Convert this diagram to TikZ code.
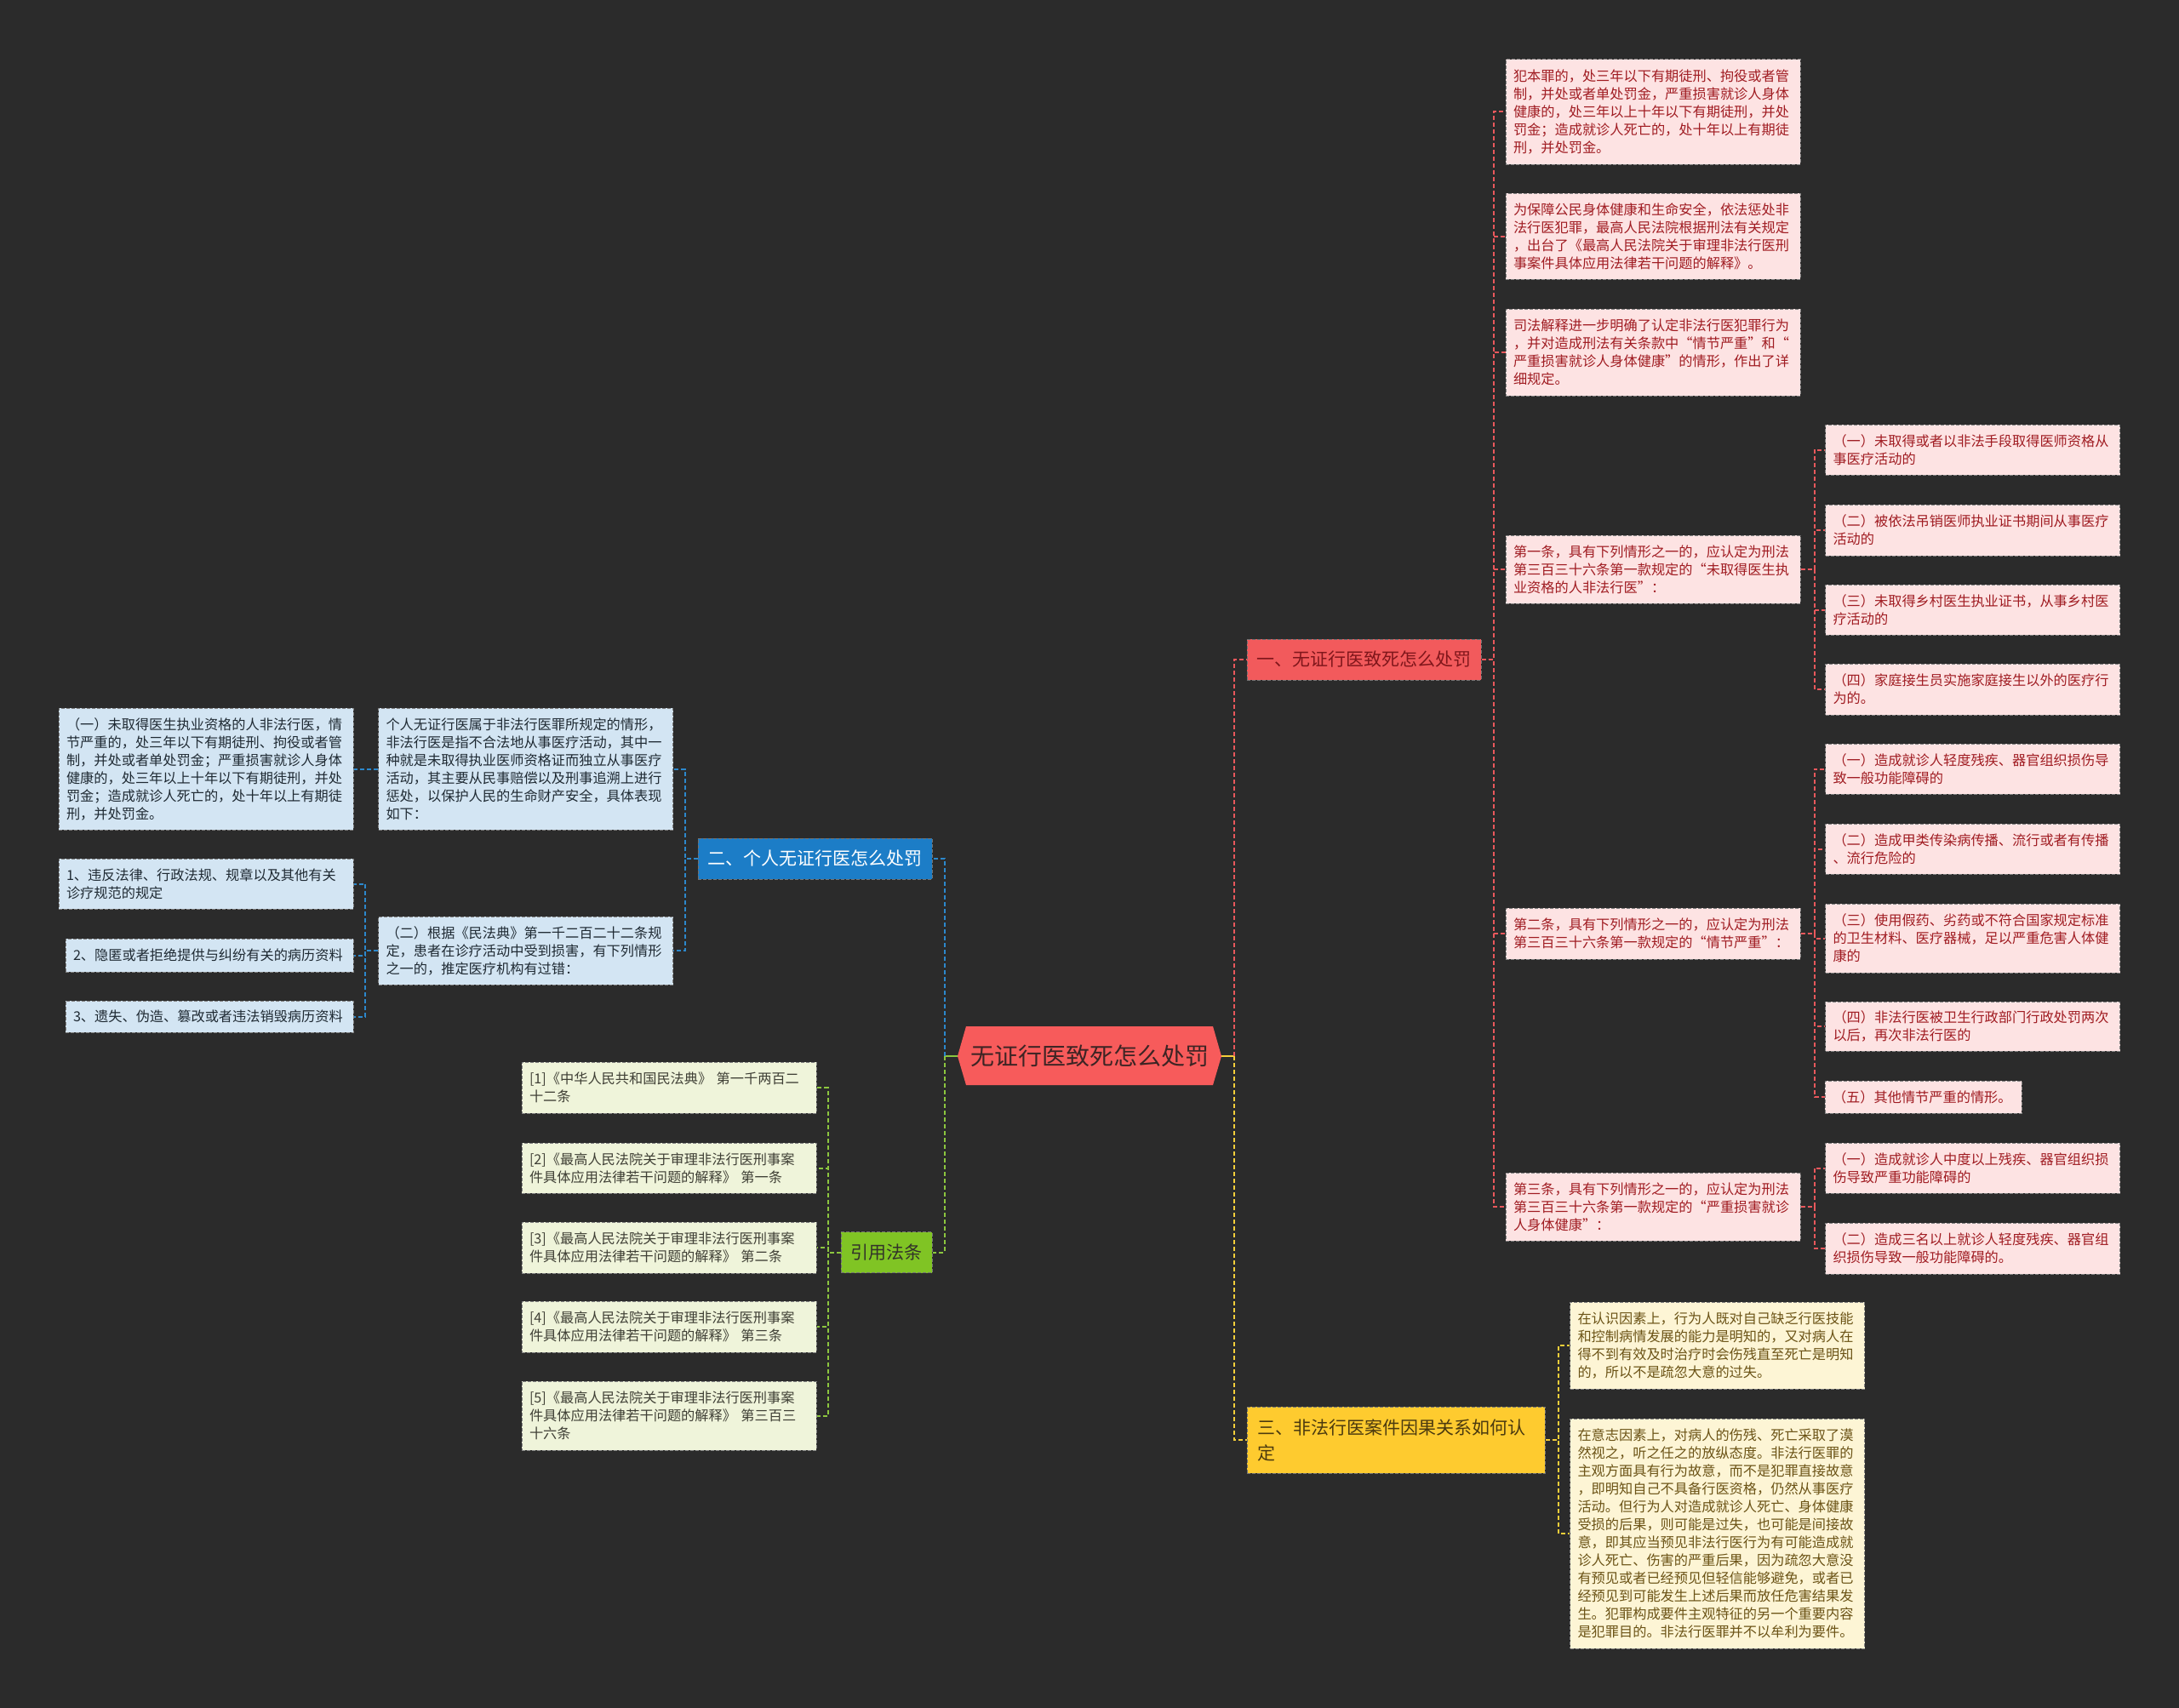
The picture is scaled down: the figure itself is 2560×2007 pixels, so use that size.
\documentclass[tikz,border=0pt]{standalone}
\usepackage{fontspec}
\setmainfont{Noto Sans CJK SC}
\definecolor{bgcol}{HTML}{2B2B2B}
\definecolor{rootred}{HTML}{F75B5B}
\definecolor{roottext}{HTML}{3D2424}
\definecolor{redmain}{HTML}{F25A5C}
\definecolor{redtext}{HTML}{A01C22}
\definecolor{redfill}{HTML}{FDE3E3}
\definecolor{redline}{HTML}{E9585C}
\definecolor{bluemain}{HTML}{1C7DC7}
\definecolor{bluefill}{HTML}{D3E5F3}
\definecolor{bluetext}{HTML}{1F2A33}
\definecolor{blueline}{HTML}{2C88CC}
\definecolor{greenmain}{HTML}{80C424}
\definecolor{greenfill}{HTML}{EFF4DA}
\definecolor{greentext}{HTML}{3F3F35}
\definecolor{greenline}{HTML}{8CC63F}
\definecolor{yellowmain}{HTML}{FECB2F}
\definecolor{yellowfill}{HTML}{FDF5D5}
\definecolor{yellowtext}{HTML}{6B5316}
\definecolor{yellowline}{HTML}{F5CF3A}

\begin{document}
\begin{tikzpicture}[x=1pt,y=-1pt,
	leaf/.style={draw=black!50, dash pattern=on 4pt off 2pt, line width=1pt, inner xsep=9pt, inner ysep=0pt,
		text width=328pt, align=left, font=\fontsize{16.2}{21}\selectfont},
	redleaf/.style={leaf, fill=redfill, text=redtext},
	blueleaf/.style={leaf, fill=bluefill, text=bluetext},
	greenleaf/.style={leaf, fill=greenfill, text=greentext},
	yellowleaf/.style={leaf, fill=yellowfill, text=yellowtext},
	branch/.style={draw=black!55, dash pattern=on 4pt off 2pt, line width=1pt, inner xsep=11.5pt, inner ysep=0pt,
		minimum height=48pt, align=center, font=\fontsize{21}{30}\selectfont},
	rootnode/.style={minimum width=310pt, minimum height=69pt, inner sep=0pt, text=roottext, font=\fontsize{28}{34}\selectfont},
	link/.style={line width=2pt, dash pattern=on 5pt off 3pt},
	redlink/.style={link, draw=redline},
	bluelink/.style={link, draw=blueline},
	greenlink/.style={link, draw=greenline},
	yellowlink/.style={link, draw=yellowline}]

	\fill[bgcol] (0,0) rectangle (2560,2007);
	\useasboundingbox (0,0) rectangle (2560,2007);

	\fill[rootred] (1125,1241) -- (1135,1206) -- (1425,1206) -- (1435,1241) -- (1425,1275) -- (1135,1275) -- cycle;
	\node[rootnode] (root) at (1280,1241) {无证行医致死怎么处罚};

	\node[branch, fill=redmain, text=redtext!80!black, minimum width=275pt] (n1) at (1602.5,775) {一、无证行医致死怎么处罚};
	\node[branch, fill=bluemain, text=white, minimum width=275pt] (n2) at (957.5,1009) {二、个人无证行医怎么处罚};
	\node[branch, fill=yellowmain, text=yellowtext!70!black, text width=326pt, inner xsep=12pt, minimum height=78pt, align=left] (n3) at (1640,1692) {三、非法行医案件因果关系如何认\\定};
	\node[branch, fill=greenmain, text=greentext!80!black, minimum width=107pt] (n4) at (1041.5,1471.5) {引用法条};

	\node[redleaf, minimum height=123pt] (r1) at (1942,131.5) {犯本罪的，处三年以下有期徒刑、拘役或者管\\制，并处或者单处罚金，严重损害就诊人身体\\健康的，处三年以上十年以下有期徒刑，并处\\罚金；造成就诊人死亡的，处十年以上有期徒\\刑，并处罚金。};
	\node[redleaf, minimum height=101pt] (r2) at (1942,277.5) {为保障公民身体健康和生命安全，依法惩处非\\法行医犯罪，最高人民法院根据刑法有关规定\\，出台了《最高人民法院关于审理非法行医刑\\事案件具体应用法律若干问题的解释》。};
	\node[redleaf, minimum height=102pt] (r3) at (1942,414) {司法解释进一步明确了认定非法行医犯罪行为\\，并对造成刑法有关条款中“情节严重”和“\\严重损害就诊人身体健康”的情形，作出了详\\细规定。};
	\node[redleaf, minimum height=80pt] (r4) at (1942,669) {第一条，具有下列情形之一的，应认定为刑法\\第三百三十六条第一款规定的“未取得医生执\\业资格的人非法行医”：};
	\node[redleaf, minimum height=60pt] (r5) at (1942,1097) {第二条，具有下列情形之一的，应认定为刑法\\第三百三十六条第一款规定的“情节严重”：};
	\node[redleaf, minimum height=80pt] (r6) at (1942,1418) {第三条，具有下列情形之一的，应认定为刑法\\第三百三十六条第一款规定的“严重损害就诊\\人身体健康”：};

	\node[redleaf, minimum height=59pt] (a1) at (2317.5,528.5) {（一）未取得或者以非法手段取得医师资格从\\事医疗活动的};
	\node[redleaf, minimum height=60pt] (a2) at (2317.5,623) {（二）被依法吊销医师执业证书期间从事医疗\\活动的};
	\node[redleaf, minimum height=59pt] (a3) at (2317.5,716.5) {（三）未取得乡村医生执业证书，从事乡村医\\疗活动的};
	\node[redleaf, minimum height=60pt] (a4) at (2317.5,810) {（四）家庭接生员实施家庭接生以外的医疗行\\为的。};

	\node[redleaf, minimum height=59pt] (b1) at (2317.5,903.5) {（一）造成就诊人轻度残疾、器官组织损伤导\\致一般功能障碍的};
	\node[redleaf, minimum height=59pt] (b2) at (2317.5,997.5) {（二）造成甲类传染病传播、流行或者有传播\\、流行危险的};
	\node[redleaf, minimum height=81pt] (b3) at (2317.5,1102.5) {（三）使用假药、劣药或不符合国家规定标准\\的卫生材料、医疗器械，足以严重危害人体健\\康的};
	\node[redleaf, minimum height=58pt] (b4) at (2317.5,1206) {（四）非法行医被卫生行政部门行政处罚两次\\以后，再次非法行医的};
	\node[redleaf, minimum height=38pt, text width=213pt] (b5) at (2259.5,1289) {（五）其他情节严重的情形。};

	\node[redleaf, minimum height=59pt] (c1) at (2317.5,1372.5) {（一）造成就诊人中度以上残疾、器官组织损\\伤导致严重功能障碍的};
	\node[redleaf, minimum height=60pt] (c2) at (2317.5,1467) {（二）造成三名以上就诊人轻度残疾、器官组\\织损伤导致一般功能障碍的。};

	\node[yellowleaf, minimum height=102pt] (y1) at (2017.5,1581) {在认识因素上，行为人既对自己缺乏行医技能\\和控制病情发展的能力是明知的，又对病人在\\得不到有效及时治疗时会伤残直至死亡是明知\\的，所以不是疏忽大意的过失。};
	\node[yellowleaf, minimum height=270pt] (y2) at (2017.5,1802) {在意志因素上，对病人的伤残、死亡采取了漠\\然视之，听之任之的放纵态度。非法行医罪的\\主观方面具有行为故意，而不是犯罪直接故意\\，即明知自己不具备行医资格，仍然从事医疗\\活动。但行为人对造成就诊人死亡、身体健康\\受损的后果，则可能是过失，也可能是间接故\\意，即其应当预见非法行医行为有可能造成就\\诊人死亡、伤害的严重后果，因为疏忽大意没\\有预见或者已经预见但轻信能够避免，或者已\\经预见到可能发生上述后果而放任危害结果发\\生。犯罪构成要件主观特征的另一个重要内容\\是犯罪目的。非法行医罪并不以牟利为要件。};

	\node[blueleaf, minimum height=143pt] (p1) at (617.5,903.5) {个人无证行医属于非法行医罪所规定的情形，\\非法行医是指不合法地从事医疗活动，其中一\\种就是未取得执业医师资格证而独立从事医疗\\活动，其主要从民事赔偿以及刑事追溯上进行\\惩处，以保护人民的生命财产安全，具体表现\\如下：};
	\node[blueleaf, minimum height=143pt] (p0) at (242,903.5) {（一）未取得医生执业资格的人非法行医，情\\节严重的，处三年以下有期徒刑、拘役或者管\\制，并处或者单处罚金；严重损害就诊人身体\\健康的，处三年以上十年以下有期徒刑，并处\\罚金；造成就诊人死亡的，处十年以上有期徒\\刑，并处罚金。};
	\node[blueleaf, minimum height=80pt] (p2) at (617.5,1117) {（二）根据《民法典》第一千二百二十二条规\\定，患者在诊疗活动中受到损害，有下列情形\\之一的，推定医疗机构有过错：};
	\node[blueleaf, minimum height=59pt] (q1) at (242,1038.5) {1、违反法律、行政法规、规章以及其他有关\\诊疗规范的规定};
	\node[blueleaf, minimum height=39pt, text width=320pt] (q2) at (246,1122.5) {2、隐匿或者拒绝提供与纠纷有关的病历资料};
	\node[blueleaf, minimum height=37pt, text width=320pt] (q3) at (246,1194.5) {3、遗失、伪造、篡改或者违法销毁病历资料};

	\node[greenleaf, minimum height=60pt] (g1) at (786,1278) {[1]《中华人民共和国民法典》 第一千两百二\\十二条};
	\node[greenleaf, minimum height=59pt] (g2) at (786,1372.5) {[2]《最高人民法院关于审理非法行医刑事案\\件具体应用法律若干问题的解释》 第一条};
	\node[greenleaf, minimum height=60pt] (g3) at (786,1466) {[3]《最高人民法院关于审理非法行医刑事案\\件具体应用法律若干问题的解释》 第二条};
	\node[greenleaf, minimum height=60pt] (g4) at (786,1559) {[4]《最高人民法院关于审理非法行医刑事案\\件具体应用法律若干问题的解释》 第三条};
	\node[greenleaf, minimum height=81pt] (g5) at (786,1663.5) {[5]《最高人民法院关于审理非法行医刑事案\\件具体应用法律若干问题的解释》 第三百三\\十六条};

	\draw[yellowline, line width=2pt] (root.east) -- ++(15,0) coordinate (rj);
	\draw[greenline, line width=2pt] (root.west) -- ++(-15,0) coordinate (lj);
	\draw[redlink] (rj) |- (n1.west);
	\draw[yellowlink] (rj) |- (n3.west);
	\draw[bluelink] (lj) |- (n2.east);
	\draw[greenlink] (lj) |- (n4.east);

	\foreach \c in {r1,r2,r3,r4,r5,r6}
		\draw[redlink] (n1.east) -- ++(14,0) |- (\c.west);
	\foreach \c in {a1,a2,a3,a4}
		\draw[redlink] (r4.east) -- ++(16,0) |- (\c.west);
	\foreach \c in {b1,b2,b3,b4,b5}
		\draw[redlink] (r5.east) -- ++(16,0) |- (\c.west);
	\foreach \c in {c1,c2}
		\draw[redlink] (r6.east) -- ++(16,0) |- (\c.west);
	\foreach \c in {y1,y2}
		\draw[yellowlink] (n3.east) -- ++(15,0) |- (\c.west);

	\foreach \c in {p1,p2}
		\draw[bluelink] (n2.west) -- ++(-15,0) |- (\c.east);
	\draw[bluelink] (p1.west) -- (p0.east);
	\foreach \c in {q1,q2,q3}
		\draw[bluelink] (p2.west) -- ++(-15,0) |- (\c.east);
	\foreach \c in {g1,g2,g3,g4,g5}
		\draw[greenlink] (n4.west) -- ++(-15,0) |- (\c.east);
\end{tikzpicture}
\end{document}
